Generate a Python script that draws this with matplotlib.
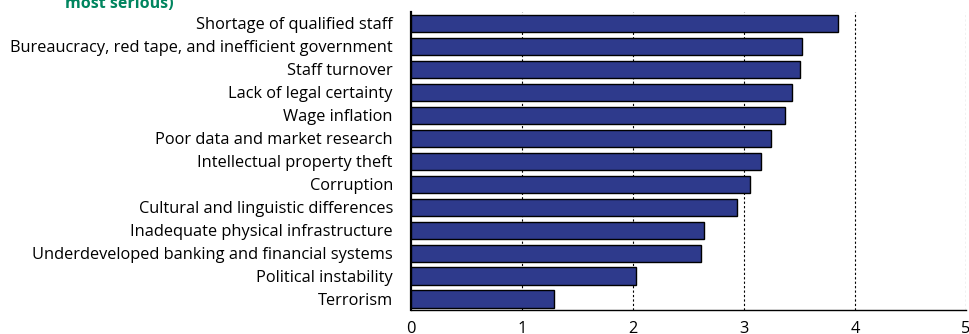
import matplotlib
matplotlib.use("Agg")
import matplotlib.pyplot as plt

categories = [
    "Shortage of qualified staff",
    "Bureaucracy, red tape, and inefficient government",
    "Staff turnover",
    "Lack of legal certainty",
    "Wage inflation",
    "Poor data and market research",
    "Intellectual property theft",
    "Corruption",
    "Cultural and linguistic differences",
    "Inadequate physical infrastructure",
    "Underdeveloped banking and financial systems",
    "Political instability",
    "Terrorism",
]
values = [3.85, 3.52, 3.50, 3.43, 3.37, 3.24, 3.15, 3.05, 2.94, 2.64, 2.61, 2.03, 1.29]
xticks = [0, 1, 2, 3, 4, 5]

plt.rcParams['font.family'] = ['Open Sans', 'DejaVu Sans']

fig = plt.figure(figsize=(9.69, 3.34), dpi=100)
ax = fig.add_axes([411/969, 1 - 310/334, 555/969, 298/334])

y = list(range(len(categories)))
ax.barh(y, values, height=0.76, color="#2E3A8C", edgecolor="black", linewidth=1.0, zorder=3)

ax.set_xlim(0, 5)
ax.set_ylim(12.47, -0.5)
ax.set_yticks(y)
ax.set_yticklabels(categories, fontsize=11.8)
ax.set_xticks(xticks)
ax.set_xticklabels([str(t) for t in xticks], fontsize=11.8)
ax.tick_params(axis='y', length=0, pad=13)
ax.tick_params(axis='x', length=0, pad=8)

for t in xticks[1:]:
    ax.axvline(t, color="black", linestyle=(0, (2, 2)), linewidth=0.8, zorder=1)

for s in ["top", "right"]:
    ax.spines[s].set_visible(False)
ax.spines["left"].set_linewidth(1.6)
ax.spines["bottom"].set_linewidth(1.0)

fig.text(65/969, 1 - 7.5/334, "most serious)", color="#00855F", fontsize=11.5,
         fontweight="bold", ha="left", va="baseline")

fig.savefig("out.png", dpi=100)
